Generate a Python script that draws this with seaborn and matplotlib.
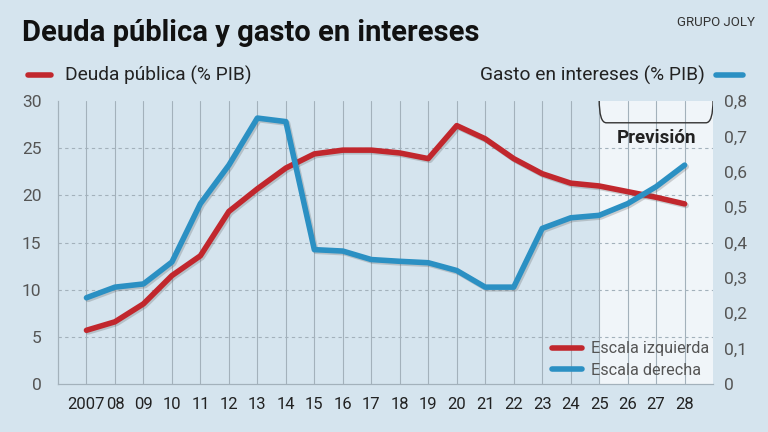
import numpy as np
import pandas as pd
import matplotlib
matplotlib.use("Agg")
import matplotlib.pyplot as plt
import matplotlib.patheffects as pe
import seaborn as sns
from matplotlib.lines import Line2D
from matplotlib.patches import FancyBboxPatch, Rectangle

years = list(range(2007, 2029))
year_labels = ["2007"] + [f"{y % 100:02d}" for y in range(2008, 2029)]
deuda = [5.7, 6.6, 8.5, 11.5, 13.6, 18.3, 20.7, 22.9, 24.4, 24.8, 24.8, 24.5,
         23.9, 27.4, 26.0, 23.9, 22.3, 21.3, 21.0, 20.4, 19.8, 19.1]
intereses = [0.244, 0.274, 0.283, 0.345, 0.51, 0.619, 0.752, 0.742, 0.38, 0.376,
             0.352, 0.347, 0.343, 0.321, 0.274, 0.274, 0.44, 0.47, 0.477, 0.51,
             0.558, 0.619]
left_ticks = [0, 5, 10, 15, 20, 25, 30]
right_ticks = [0, 0.1, 0.2, 0.3, 0.4, 0.5, 0.6, 0.7, 0.8]
right_labels = ["0", "0,1", "0,2", "0,3", "0,4", "0,5", "0,6", "0,7", "0,8"]

df = pd.DataFrame({"year": years, "deuda": deuda, "intereses": intereses})

bg = "#d5e4ee"
red = "#c1272d"
blue = "#2b90c3"
grid = "#a3b1bb"

sns.set_theme(style="white")
plt.rcParams["font.family"] = ["Roboto", "DejaVu Sans"]

fig = plt.figure(figsize=(7.68, 4.32), dpi=100, facecolor=bg)
ax = fig.add_axes([0.0755, 0.111, 0.853, 0.655])
ax.set_facecolor(bg)

# forecast zone
ax.add_patch(Rectangle((2025, 0), 4, 30, facecolor="#f0f5f9", edgecolor="none", zorder=0))

for y in years:
    ax.axvline(y, color=grid, lw=0.8, zorder=1)
for v in [5, 10, 15, 20, 25]:
    ax.axhline(v, color=grid, lw=0.8, ls=(0, (3, 3)), zorder=1)

shadow = [pe.SimpleLineShadow(offset=(1.2, -1.2), shadow_color="#555555", alpha=0.25), pe.Normal()]

sns.lineplot(data=df, x="year", y="deuda", ax=ax, color=red, lw=4, zorder=4)
ax.lines[-1].set_solid_joinstyle("round")
ax.lines[-1].set_solid_capstyle("round")
ax.lines[-1].set_path_effects(shadow)

ax2 = ax.twinx()
sns.lineplot(data=df, x="year", y="intereses", ax=ax2, color=blue, lw=4, zorder=3)
ax2.lines[-1].set_solid_joinstyle("round")
ax2.lines[-1].set_solid_capstyle("round")
ax2.lines[-1].set_path_effects(shadow)

ax.set_xlim(2006, 2029)
ax.set_ylim(0, 30)
ax2.set_ylim(0, 0.8)
ax.set_xticks(years)
ax.set_xticklabels(year_labels)
ax.set_yticks(left_ticks)
ax2.set_yticks(right_ticks)
ax2.set_yticklabels(right_labels)
ax.set_xlabel("")
ax.set_ylabel("")
ax2.set_ylabel("")
ax.tick_params(axis="x", length=0, pad=9, labelsize=12, labelcolor="#222222")
ax.tick_params(axis="y", length=0, pad=12, labelsize=12.5, labelcolor="#555555")
ax2.tick_params(axis="y", length=0, pad=8, labelsize=12.5, labelcolor="#555555")

for a in (ax, ax2):
    for s in ["top", "right"]:
        a.spines[s].set_visible(False)
    a.spines["left"].set_color(grid)
    a.spines["bottom"].set_color(grid)
    a.spines["left"].set_linewidth(0.8)
    a.spines["bottom"].set_linewidth(0.8)

# bracket "Previsión"
ax.add_patch(FancyBboxPatch((2025, 27.7), 4, 5, boxstyle="round,pad=0,rounding_size=0.25",
                            mutation_aspect=10, facecolor="none", edgecolor="#333333",
                            lw=1.0, zorder=5, clip_on=True))
ax.text(2027, 26.1, "Previsión", ha="center", va="center", fontsize=13.5,
        fontweight="bold", color="#222222", zorder=6)

# legend inside
handles = [Line2D([0], [0], color=red, lw=4), Line2D([0], [0], color=blue, lw=4)]
leg = ax.legend(handles, ["Escala izquierda", "Escala derecha"], loc="lower right",
                bbox_to_anchor=(1.017, -0.03), frameon=False, fontsize=11.7,
                handlelength=1.8, handletextpad=0.6, labelspacing=0.4)
for t in leg.get_texts():
    t.set_color("#555555")
leg.set_zorder(10)

# header
fig.text(0.028, 0.923, "Deuda pública y gasto en intereses", fontsize=21,
         fontweight="bold", color="#111111", va="center", ha="left")
fig.text(0.983, 0.948, "GRUPO JOLY", fontsize=9.5, color="#333333", va="center", ha="right")
fig.add_artist(Line2D([0.037, 0.067], [0.826, 0.826], color=red, lw=4,
                      solid_capstyle="round", transform=fig.transFigure))
fig.text(0.085, 0.826, "Deuda pública (% PIB)", fontsize=13.8, color="#222222",
         va="center", ha="left")
fig.add_artist(Line2D([0.932, 0.968], [0.826, 0.826], color=blue, lw=4,
                      solid_capstyle="round", transform=fig.transFigure))
fig.text(0.918, 0.826, "Gasto en intereses (% PIB)", fontsize=13.8, color="#222222",
         va="center", ha="right")

fig.savefig("out.png", dpi=100, facecolor=bg)
